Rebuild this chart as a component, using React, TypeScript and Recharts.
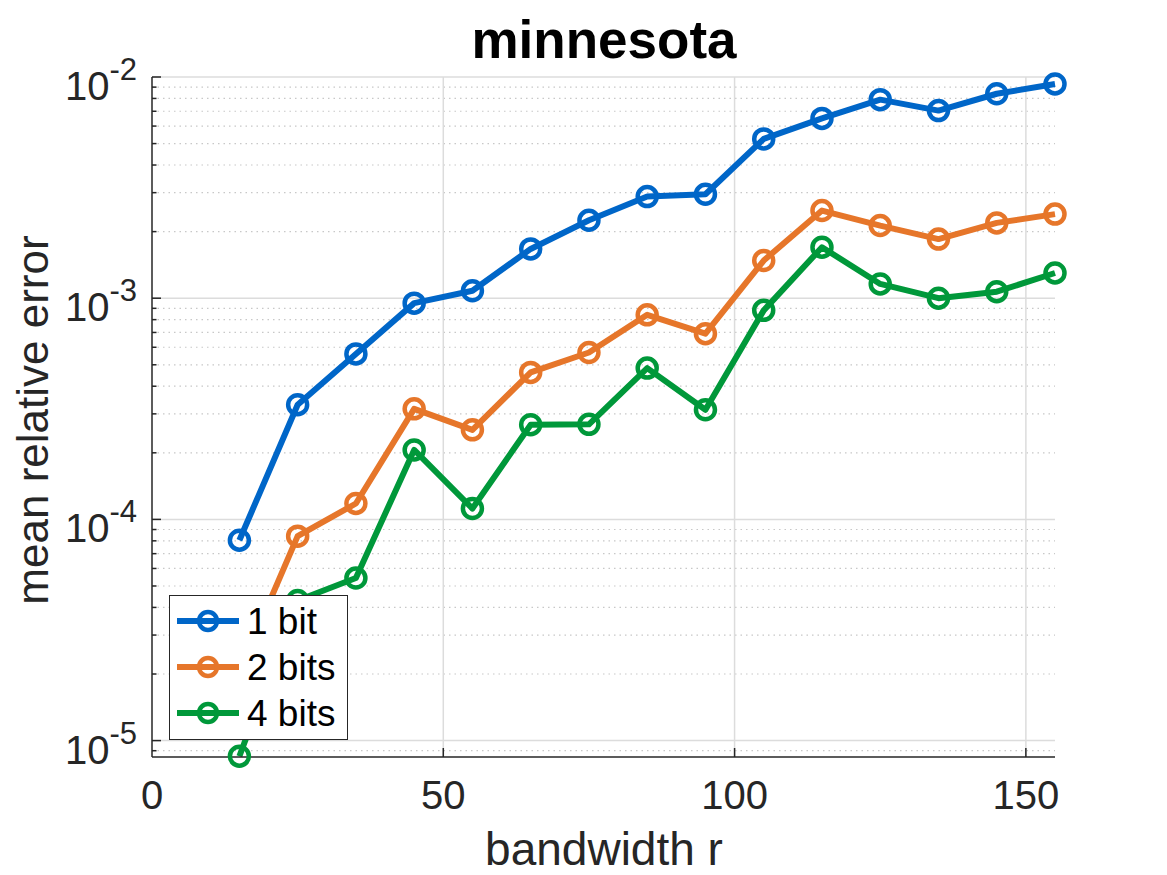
import React from "react";
import {
  LineChart,
  Line,
  XAxis,
  YAxis,
  ReferenceLine,
  Legend,
} from "recharts";

// bandwidth r
const BANDWIDTH = [15, 25, 35, 45, 55, 65, 75, 85, 95, 105, 115, 125, 135, 145, 155];

// mean relative error per quantization level
const ONE_BIT = [
  8.05e-5, 3.3e-4, 5.6e-4, 9.5e-4, 1.08e-3, 1.67e-3, 2.25e-3, 2.88e-3,
  2.95e-3, 5.25e-3, 6.5e-3, 7.9e-3, 7.05e-3, 8.4e-3, 9.3e-3,
];
const TWO_BITS = [
  2.05e-5, 8.4e-5, 1.18e-4, 3.16e-4, 2.54e-4, 4.62e-4, 5.68e-4, 8.41e-4,
  6.91e-4, 1.48e-3, 2.49e-3, 2.13e-3, 1.85e-3, 2.19e-3, 2.4e-3,
];
const FOUR_BITS = [
  8.5e-6, 4.3e-5, 5.43e-5, 2.06e-4, 1.12e-4, 2.68e-4, 2.69e-4, 4.83e-4,
  3.13e-4, 8.81e-4, 1.7e-3, 1.16e-3, 1.0e-3, 1.07e-3, 1.3e-3,
];

const X_TICKS = [0, 50, 100, 150];
const Y_DOMAIN = [8.43e-6, 1e-2];
const Y_MAJOR = [1e-5, 1e-4, 1e-3, 1e-2];
const Y_EXPONENTS = ["-5", "-4", "-3", "-2"];
const Y_MINOR = [-6, -5, -4, -3]
  .flatMap((e) => [2, 3, 4, 5, 6, 7, 8, 9].map((m) => m * Math.pow(10, e)))
  .filter((v) => v >= Y_DOMAIN[0] && v <= Y_DOMAIN[1]);

const SERIES = [
  { key: "oneBit", name: "1 bit", color: "#0066c8", values: ONE_BIT },
  { key: "twoBits", name: "2 bits", color: "#e6762a", values: TWO_BITS },
  { key: "fourBits", name: "4 bits", color: "#00983a", values: FOUR_BITS },
];

const data = BANDWIDTH.map((r, i) => ({
  r,
  oneBit: ONE_BIT[i],
  twoBits: TWO_BITS[i],
  fourBits: FOUR_BITS[i],
}));

const FONT = '"Liberation Sans", Arial, Helvetica, sans-serif';
const AXIS_COLOR = "#262626";
const GRID_COLOR = "#dcdcdc";

function majorIndex(v: number) {
  return Y_MAJOR.findIndex((m) => Math.abs(m - v) / m < 1e-6);
}

function YTick(props: any) {
  const { x, y, payload } = props;
  const idx = majorIndex(payload.value);
  if (idx < 0) {
    return <line x1={x} y1={y} x2={x + 4.5} y2={y} stroke={AXIS_COLOR} strokeWidth={1.5} />;
  }
  return (
    <g>
      <line x1={x} y1={y} x2={x + 9} y2={y} stroke={AXIS_COLOR} strokeWidth={1.5} />
      <text
        x={x - 15}
        y={y + 23}
        textAnchor="end"
        fill={AXIS_COLOR}
        fontFamily={FONT}
        fontSize={40}
      >
        <tspan>10</tspan>
        <tspan dy={-20} fontSize={31}>
          {Y_EXPONENTS[idx]}
        </tspan>
      </text>
    </g>
  );
}

function XTick(props: any) {
  const { x, y, payload } = props;
  return (
    <g>
      {payload.value !== 0 && (
        <line x1={x} y1={y} x2={x} y2={y - 9} stroke={AXIS_COLOR} strokeWidth={1.5} />
      )}
      <text
        x={x}
        y={y + 52}
        textAnchor="middle"
        fill={AXIS_COLOR}
        fontFamily={FONT}
        fontSize={40}
      >
        {payload.value}
      </text>
    </g>
  );
}

function LegendBox() {
  return (
    <div
      style={{
        width: 179,
        height: 145,
        boxSizing: "border-box",
        border: "1.5px solid #262626",
        background: "#fff",
      }}
    >
      <svg width={176} height={142} style={{ display: "block" }}>
        {SERIES.map((s, i) => {
          const cy = 25 + i * 46;
          return (
            <g key={s.key}>
              <line x1={7} y1={cy} x2={69} y2={cy} stroke={s.color} strokeWidth={6} />
              <circle cx={38} cy={cy} r={9} fill="none" stroke={s.color} strokeWidth={4.5} />
              <text x={77} y={cy + 13} fontFamily={FONT} fontSize={37} fill="#000">
                {s.name}
              </text>
            </g>
          );
        })}
      </svg>
    </div>
  );
}

export default function App() {
  return (
    <div style={{ position: "absolute", left: 0, top: 0, width: 1167, height: 875, background: "#fff" }}>
      <LineChart
        width={1167}
        height={875}
        data={data}
        margin={{ top: 77, right: 112, bottom: 0, left: 0 }}
      >
        <XAxis
          dataKey="r"
          type="number"
          domain={[0, 155]}
          ticks={X_TICKS}
          interval={0}
          height={118}
          tickSize={0}
          tickMargin={0}
          tickLine={false}
          tick={<XTick />}
          axisLine={{ stroke: AXIS_COLOR, strokeWidth: 1.5 }}
        />
        <YAxis
          type="number"
          scale="log"
          domain={Y_DOMAIN}
          ticks={[...Y_MINOR, ...Y_MAJOR]}
          interval={0}
          width={152}
          tickSize={0}
          tickMargin={0}
          tickLine={false}
          tick={<YTick />}
          axisLine={{ stroke: AXIS_COLOR, strokeWidth: 1.5 }}
        />
        {Y_MINOR.map((v) => (
          <ReferenceLine
            key={"ym" + v}
            y={v}
            stroke="#c8c8c8"
            strokeWidth={1.2}
            strokeDasharray="1.5 4"
          />
        ))}
        {Y_MAJOR.map((v) => (
          <ReferenceLine key={"yM" + v} y={v} stroke={GRID_COLOR} strokeWidth={1.5} />
        ))}
        {X_TICKS.filter((t) => t > 0).map((t) => (
          <ReferenceLine key={"x" + t} x={t} stroke={GRID_COLOR} strokeWidth={1.5} />
        ))}
        {SERIES.map((s) => (
          <Line
            key={s.key}
            dataKey={s.key}
            name={s.name}
            stroke={s.color}
            strokeWidth={6}
            strokeLinejoin="round"
            dot={{ r: 9.5, strokeWidth: 4.5, fill: "none", stroke: s.color }}
            isAnimationActive={false}
          />
        ))}
        <Legend
          layout="vertical"
          align="center"
          verticalAlign="middle"
          content={() => <LegendBox />}
          wrapperStyle={{ position: "absolute", left: 169, top: 595, width: 179, height: 145 }}
        />
        <text
          x={604}
          y={58}
          textAnchor="middle"
          fontFamily={FONT}
          fontWeight="bold"
          fontSize={53}
          fill="#000"
        >
          minnesota
        </text>
        <text
          x={604}
          y={865}
          textAnchor="middle"
          fontFamily={FONT}
          fontSize={46}
          fill={AXIS_COLOR}
        >
          bandwidth r
        </text>
        <text
          transform="translate(48, 420) rotate(-90)"
          textAnchor="middle"
          fontFamily={FONT}
          fontSize={44}
          fill={AXIS_COLOR}
        >
          mean relative error
        </text>
      </LineChart>
    </div>
  );
}
